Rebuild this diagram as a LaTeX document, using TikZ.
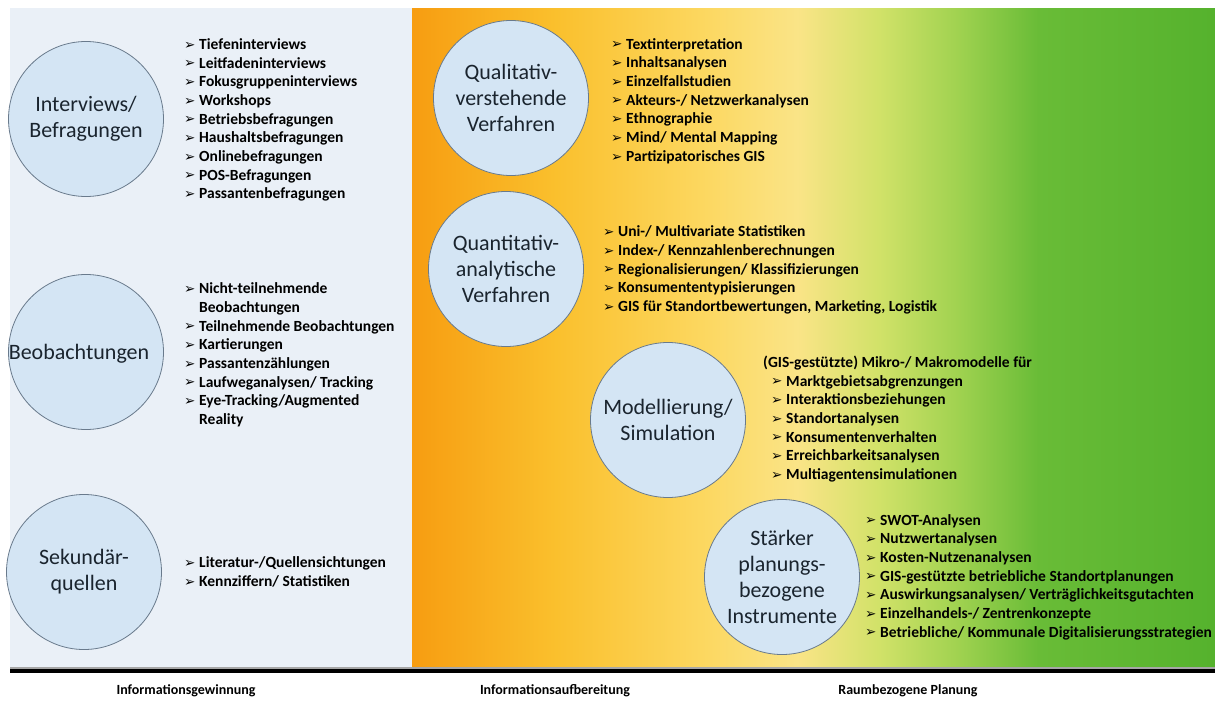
\documentclass[tikz,border=0pt]{standalone}
\usepackage{fontspec}
\setmainfont{Carlito}
\newfontfamily\dejavu{DejaVu Sans}

\definecolor{panelblau}{RGB}{234,240,247}
\definecolor{kreisblau}{RGB}{212,229,244}
\definecolor{kreisrand}{RGB}{105,122,140}
\definecolor{schrift}{RGB}{26,36,46}
\definecolor{vOrange}{RGB}{247,157,17}
\definecolor{vGold}{RGB}{250,192,45}
\definecolor{vGelb}{RGB}{252,215,95}
\definecolor{vHell}{RGB}{250,228,135}
\definecolor{vLime}{RGB}{210,226,105}
\definecolor{vHgruen}{RGB}{160,210,80}
\definecolor{vGruen}{RGB}{105,188,55}
\definecolor{vDunkel}{RGB}{85,178,45}

\pgfdeclarehorizontalshading{verlauf}{100bp}{color(0bp)=(vOrange); color(25bp)=(vOrange); color(34bp)=(vGold); color(43bp)=(vGelb); color(49bp)=(vHell); color(54bp)=(vLime); color(59bp)=(vHgruen); color(64bp)=(vGruen); color(75bp)=(vDunkel); color(100bp)=(vDunkel)}

\newcommand\pf{\makebox[15pt][l]{\raisebox{0.3pt}{\dejavu\fontsize{13.5}{13.5}\selectfont ➢}}}

\tikzset{
kreis/.style={circle, draw=kreisrand, line width=0.8pt, fill=kreisblau, minimum size=155pt, inner sep=0pt},
ktext/.style={align=center, text=schrift, font=\fontsize{22}{26}\selectfont},
liste/.style={anchor=west, align=left, inner sep=0pt, font=\fontsize{15.5}{18.7}\selectfont\bfseries},
fuss/.style={font=\fontsize{14}{16}\selectfont\bfseries}
}

\begin{document}
\begin{tikzpicture}[x=1pt,y=-1pt]
\useasboundingbox (0,0) rectangle (1215,704);

% panels
\fill[panelblau] (10,8) rectangle (412,668);
\shade[shading=verlauf] (412,8) rectangle (1215,668);
\fill[black!35] (10,667) rectangle (1215,669);
\draw[line width=4pt] (10,671) -- (1215,671);

% Informationsgewinnung
\node[kreis] (cint) at (86,119) {};
\node[ktext] (tint) at (cint) {Interviews/\\Befragungen};
\node[liste] (lint) at (184,120) {\pf Tiefeninterviews\\ \pf Leitfadeninterviews\\ \pf Fokusgruppeninterviews\\ \pf Workshops\\ \pf Betriebsbefragungen\\ \pf Haushaltsbefragungen\\ \pf Onlinebefragungen\\ \pf POS-Befragungen\\ \pf Passantenbefragungen};

\node[kreis] (cbeo) at (86,352) {};
\node[ktext] (tbeo) at (79,354) {Beobachtungen};
\node[liste] (lbeo) at (184,355) {\pf Nicht-teilnehmende\\ \hspace*{15pt}Beobachtungen\\ \pf Teilnehmende Beobachtungen\\ \pf Kartierungen\\ \pf Passantenzählungen\\ \pf Laufweganalysen/ Tracking\\ \pf Eye-Tracking/Augmented\\ \hspace*{15pt}Reality};

\node[kreis] (csek) at (84,572) {};
\node[ktext] (tsek) at (csek) {Sekundär-\\quellen};
\node[liste] (lsek) at (184,572) {\pf Literatur-/Quellensichtungen\\ \pf Kennziffern/ Statistiken};

% Informationsaufbereitung
\node[kreis] (cqual) at (511,98) {};
\node[ktext] (tqual) at (cqual) {Qualitativ-\\verstehende\\Verfahren};
\node[liste] (lqual) at (611,101) {\pf Textinterpretation\\ \pf Inhaltsanalysen\\ \pf Einzelfallstudien\\ \pf Akteurs-/ Netzwerkanalysen\\ \pf Ethnographie\\ \pf Mind/ Mental Mapping\\ \pf Partizipatorisches GIS};

\node[kreis] (cquan) at (506,269) {};
\node[ktext] (tquan) at (cquan) {Quantitativ-\\analytische\\Verfahren};
\node[liste] (lquan) at (603,270) {\pf Uni-/ Multivariate Statistiken\\ \pf Index-/ Kennzahlenberechnungen\\ \pf Regionalisierungen/ Klassifizierungen\\ \pf Konsumententypisierungen\\ \pf GIS für Standortbewertungen, Marketing, Logistik};

\node[kreis] (cmod) at (668,420) {};
\node[ktext] (tmod) at (cmod) {Modellierung/\\Simulation};
\node[liste] (lmod) at (763,419) {(GIS-gestützte) Mikro-/ Makromodelle für\\ \hspace*{8pt}\pf Marktgebietsabgrenzungen\\ \hspace*{8pt}\pf Interaktionsbeziehungen\\ \hspace*{8pt}\pf Standortanalysen\\ \hspace*{8pt}\pf Konsumentenverhalten\\ \hspace*{8pt}\pf Erreichbarkeitsanalysen\\ \hspace*{8pt}\pf Multiagentensimulationen};

% Raumbezogene Planung
\node[kreis] (cplan) at (782,577) {};
\node[ktext] (tplan) at (cplan) {Stärker\\planungs-\\bezogene\\Instrumente};
\node[liste] (lplan) at (865,577) {\pf SWOT-Analysen\\ \pf Nutzwertanalysen\\ \pf Kosten-Nutzenanalysen\\ \pf GIS-gestützte betriebliche Standortplanungen\\ \pf Auswirkungsanalysen/ Verträglichkeitsgutachten\\ \pf Einzelhandels-/ Zentrenkonzepte\\ \pf Betriebliche/ Kommunale Digitalisierungsstrategien};

% axis labels
\foreach \x/\t in {186/Informationsgewinnung, 555/Informationsaufbereitung, 908/Raumbezogene Planung}
	\node[fuss] (f\x) at (\x,691) {\t};
\end{tikzpicture}
\end{document}
